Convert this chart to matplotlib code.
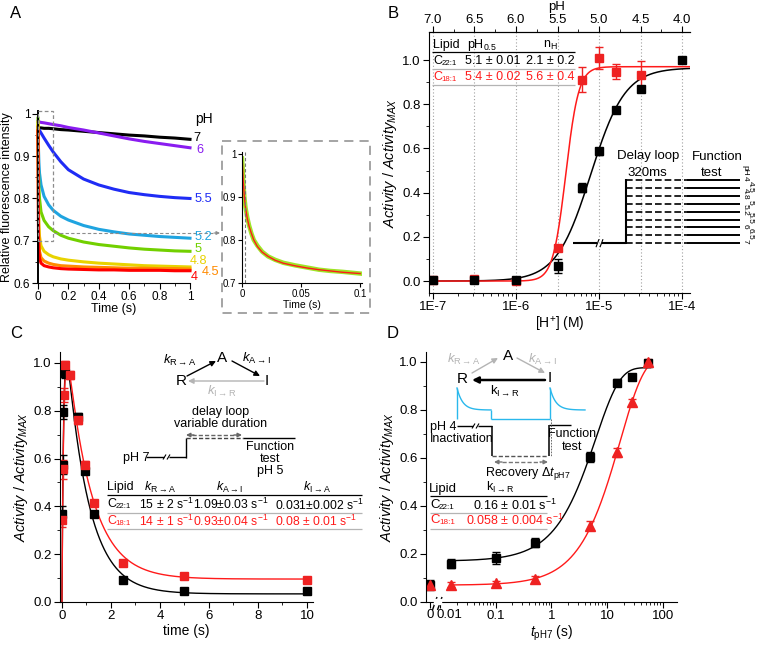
import matplotlib.pyplot as plt
import numpy as np
from matplotlib.patches import Rectangle

plt.rcParams['font.family'] = ['Liberation Sans', 'DejaVu Sans']
plt.rcParams['mathtext.fontset'] = 'custom'
plt.rcParams['mathtext.rm'] = 'Liberation Sans'
plt.rcParams['mathtext.it'] = 'Liberation Sans:italic'
plt.rcParams['mathtext.bf'] = 'Liberation Sans:bold'
plt.rcParams['mathtext.fallback'] = 'stixsans'

# ---------------- data ----------------
# panel A: fluorescence traces
tA = [0, 0.003, 0.006, 0.01, 0.02, 0.04, 0.07, 0.1, 0.15, 0.2, 0.3, 0.4, 0.5, 0.6, 0.7, 0.8, 0.9, 1.0]
trace_ph = ['7', '6', '5.5', '5.2', '5', '4.8', '4.5', '4']
trace_col = ['#000000', '#8a1cf0', '#1f2cf5', '#1fa4e0', '#72d000', '#e8d300', '#ff8a00', '#ff0000']
traces = [
    [0.967, 0.967, 0.967, 0.967, 0.967, 0.966, 0.966, 0.965, 0.963, 0.962, 0.959, 0.956, 0.953, 0.950, 0.948, 0.945, 0.943, 0.940],
    [0.982, 0.982, 0.981, 0.981, 0.980, 0.979, 0.977, 0.975, 0.972, 0.968, 0.962, 0.955, 0.948, 0.941, 0.935, 0.930, 0.925, 0.920],
    [0.968, 0.966, 0.964, 0.961, 0.955, 0.943, 0.926, 0.910, 0.887, 0.868, 0.846, 0.832, 0.822, 0.814, 0.809, 0.805, 0.802, 0.800],
    [0.965, 0.920, 0.885, 0.860, 0.832, 0.805, 0.785, 0.772, 0.758, 0.749, 0.736, 0.727, 0.721, 0.716, 0.713, 0.710, 0.708, 0.706],
    [0.990, 0.870, 0.825, 0.800, 0.768, 0.748, 0.733, 0.724, 0.713, 0.706, 0.697, 0.691, 0.687, 0.683, 0.680, 0.678, 0.676, 0.675],
    [0.980, 0.800, 0.740, 0.710, 0.688, 0.675, 0.667, 0.662, 0.657, 0.654, 0.650, 0.647, 0.645, 0.643, 0.641, 0.640, 0.639, 0.638],
    [0.970, 0.760, 0.700, 0.675, 0.660, 0.652, 0.647, 0.644, 0.641, 0.640, 0.638, 0.637, 0.636, 0.635, 0.635, 0.634, 0.634, 0.633],
    [0.960, 0.720, 0.675, 0.658, 0.647, 0.641, 0.638, 0.636, 0.634, 0.633, 0.632, 0.631, 0.631, 0.630, 0.630, 0.630, 0.629, 0.629],
]
# inset: pH 5 trace, first 0.1 s
tInset = [0, 0.0005, 0.001, 0.002, 0.003, 0.0045, 0.006, 0.008, 0.01, 0.013, 0.017, 0.022, 0.028, 0.035, 0.045, 0.055, 0.065, 0.075, 0.085, 0.1]
inset_green = [0.99, 0.97, 0.94, 0.90, 0.875, 0.852, 0.834, 0.815, 0.80, 0.787, 0.773, 0.762, 0.754, 0.747, 0.741, 0.736, 0.731, 0.728, 0.726, 0.722]
inset_fit = [1.0, 0.97, 0.94, 0.90, 0.875, 0.85, 0.832, 0.815, 0.80, 0.785, 0.772, 0.762, 0.753, 0.746, 0.740, 0.735, 0.731, 0.728, 0.725, 0.722]

# panel B: pH dependence
pH_B = [7.0, 6.5, 6.0, 5.5, 5.2, 5.0, 4.8, 4.5, 4.0]
act_22 = [0.005, 0.005, 0.005, 0.068, 0.422, 0.587, 0.776, 0.871, 1.0]
err_22 = [0.01, 0.01, 0.01, 0.03, 0.02, 0.015, 0.01, 0.01, 0.0]
pH_B18 = [7.0, 6.5, 6.0, 5.5, 5.2, 5.0, 4.8, 4.5]
act_18 = [0.005, 0.01, 0.0, 0.148, 0.912, 1.01, 0.947, 0.932]
err_18 = [0.01, 0.01, 0.01, 0.01, 0.055, 0.05, 0.034, 0.065]
hill_22 = (0.965, 5.1, 2.1)   # amplitude, pH0.5, nH
hill_18 = (0.97, 5.4, 5.6)
pH_grid = [7.0, 6.5, 6.0, 5.5, 5.0, 4.5, 4.0]
pH_loop = ['4', '4.5', '4.8', '5', '5.2', '5.5', '6', '6.5', '7']

# panel C: inactivation time course
tC22 = [0.02, 0.04, 0.06, 0.12, 0.65, 0.95, 1.3, 2.5, 5, 10]
actC22 = [0.37, 0.575, 0.795, 0.957, 0.775, 0.55, 0.368, 0.092, 0.045, 0.044]
errC22 = [0.03, 0.04, 0.03, 0.02, 0.015, 0.015, 0.01, 0.01, 0.005, 0.005]
tC18 = [0.02, 0.04, 0.08, 0.14, 0.33, 0.65, 0.95, 1.3, 2.5, 5, 10]
actC18 = [0.345, 0.555, 0.866, 0.99, 0.95, 0.76, 0.575, 0.414, 0.162, 0.109, 0.094]
errC18 = [0.03, 0.04, 0.03, 0.02, 0.015, 0.015, 0.015, 0.01, 0.01, 0.005, 0.005]
k_22 = (15, 1.09, 0.031)   # kR->A, kA->I, kI->A
k_18 = (14, 0.93, 0.08)

# panel D: recovery from inactivation
tD = [0, 0.016, 0.1, 0.5, 5, 15, 28, 55]
actD22 = [0.07, 0.16, 0.185, 0.247, 0.604, 0.913, 0.937, 0.996]
errD22 = [0.02, 0.02, 0.025, 0.02, 0.02, 0.015, 0.01, 0.01]
actD18 = [0.07, 0.072, 0.077, 0.094, 0.318, 0.622, 0.83, 1.0]
errD18 = [0.01, 0.01, 0.01, 0.015, 0.02, 0.02, 0.015, 0.01]
rec_22 = (0.17, 0.975, 0.16)   # baseline, plateau, kI->R
rec_18 = (0.07, 1.02, 0.058)

# ---------------- figure ----------------
W, H = 758, 646
fig = plt.figure(figsize=(W / 100, H / 100), dpi=100)


def box(l, t, r, b):
    return [l / W, 1 - b / H, (r - l) / W, (b - t) / H]


def clean(ax, top=False):
    ax.spines['right'].set_visible(False)
    if not top:
        ax.spines['top'].set_visible(False)
    ax.tick_params(which='major', length=4, width=0.8)
    ax.tick_params(which='minor', length=2, width=0.6)


ACT = r'$Activity$ / $Activity_{MAX}$'

# ---- A ----
axA = fig.add_axes(box(38, 111, 190, 283))
for vals, col in zip(traces, trace_col):
    axA.plot(tA, vals, color=col, lw=2.2, solid_joinstyle='round', clip_on=False)
axA.set_xlim(0, 1)
axA.set_ylim(0.6, 1.007)
axA.set_xticks([0, 0.2, 0.4, 0.6, 0.8, 1.0])
axA.set_xticklabels(['0', '0.2', '0.4', '0.6', '0.8', '1'])
axA.set_xticks(np.arange(0.1, 1.0, 0.2), minor=True)
axA.set_yticks([0.6, 0.7, 0.8, 0.9, 1.0])
axA.set_yticklabels(['0.6', '0.7', '0.8', '0.9', '1'])
axA.set_yticks(np.arange(0.65, 1.0, 0.1), minor=True)
clean(axA)
axA.spines['left'].set_linewidth(1.4)
axA.tick_params(labelsize=8.5, pad=1.5)
axA.set_xlabel('Time (s)', fontsize=9, labelpad=0)
axA.set_ylabel('Relative fluorescence intensity', fontsize=9)
axA.yaxis.set_label_coords(-0.165, 0.5)
axA.add_patch(Rectangle((0, 0.7), 0.1, 0.307, fill=False, ec='#8c8c8c', lw=0.9,
                        ls=(0, (3, 2)), clip_on=False, zorder=5))

# inset
axI = fig.add_axes(box(242, 152, 362, 283))
axI.plot(tInset, inset_green, color='#8ee000', lw=3.2, alpha=0.85)
axI.plot(tInset, inset_fit, color='#ff1a1a', lw=1.0)
axI.axvline(0.0023, color='#777777', lw=0.8, ls=(0, (3, 2)))
axI.set_xlim(0, 0.1015)
axI.set_ylim(0.7, 1.005)
axI.set_xticks([0, 0.05, 0.1])
axI.set_xticklabels(['0', '0.05', '0.1'])
axI.set_yticks([0.7, 0.8, 0.9, 1.0])
axI.set_yticklabels(['0.7', '0.8', '0.9', '1'])
clean(axI)
axI.tick_params(labelsize=7, pad=1, length=3)
axI.set_xlabel('Time (s)', fontsize=7.5, labelpad=1)

# ---- B ----
axB = fig.add_axes(box(429, 32, 690, 293))
axB.set_xscale('log')
xl = (10 ** -7.048, 10 ** -3.904)
for p in pH_grid:
    axB.axvline(10 ** -p, color='#a0a0a0', lw=0.8, ls=(0, (1, 2)), zorder=0)
ph_fine = np.linspace(7.05, 3.9, 400)
axB.plot(10 ** -ph_fine, hill_22[0] / (1 + 10 ** (hill_22[2] * (ph_fine - hill_22[1]))), color='k', lw=1.1)
axB.plot(10 ** -ph_fine, hill_18[0] / (1 + 10 ** (hill_18[2] * (ph_fine - hill_18[1]))), color='#ff1a1a', lw=1.1)
axB.errorbar([10 ** -p for p in pH_B18], act_18, yerr=err_18, fmt='s', color='#ee2222', ms=6,
             capsize=3, elinewidth=1, capthick=1)
axB.errorbar([10 ** -p for p in pH_B], act_22, yerr=err_22, fmt='s', color='k', ms=6,
             capsize=3, elinewidth=1, capthick=1)
axB.set_xlim(*xl)
axB.set_ylim(-0.054, 1.127)
axB.set_xticks([1e-7, 1e-6, 1e-5, 1e-4])
axB.set_xticklabels(['1E-7', '1E-6', '1E-5', '1E-4'])
axB.set_yticks(np.arange(0, 1.01, 0.2))
axB.set_yticklabels(['0.0', '0.2', '0.4', '0.6', '0.8', '1.0'])
axB.set_yticks(np.arange(0.1, 1.1, 0.2), minor=True)
clean(axB, top=True)
axB.tick_params(labelsize=9.5, pad=2)
axB.set_xlabel(r'[H$^{+}$] (M)', fontsize=10, labelpad=1)
axB.set_ylabel(ACT, fontsize=10.5, labelpad=2)
axT = axB.twiny()
axT.set_xscale('log')
axT.set_xlim(*xl)
axT.set_xticks([10 ** -p for p in np.arange(7.0, 3.9, -0.5)])
axT.set_xticklabels(['%.1f' % p for p in np.arange(7.0, 3.9, -0.5)])
axT.set_xticks([10 ** -p for p in np.arange(6.75, 4.0, -0.5)], minor=True)
axT.xaxis.set_minor_formatter(plt.NullFormatter())
for s in ['left', 'right', 'bottom']:
    axT.spines[s].set_visible(False)
axT.tick_params(which='major', length=4, width=0.8, labelsize=9.5, pad=0.5)
axT.tick_params(which='minor', length=2, width=0.6)

# ---- C ----
axC = fig.add_axes(box(60, 352, 313, 602))
t_fine = np.concatenate([np.linspace(0, 0.6, 600), np.linspace(0.6, 10, 600)])


def three_state(t, k1, k2, k3):
    s = k2 + k3
    c = (k1 - k3) / (s - k1)
    a = k3 / s * (1 - np.exp(-s * t)) + c * (np.exp(-k1 * t) - np.exp(-s * t))
    return a / a.max()


axC.plot(t_fine, three_state(t_fine, *k_22), color='k', lw=1.0)
axC.plot(t_fine, three_state(t_fine, *k_18), color='#ff1a1a', lw=1.0)
axC.errorbar(tC22, actC22, yerr=errC22, fmt='s', color='k', ms=6, capsize=3, elinewidth=1, capthick=1)
axC.errorbar(tC18, actC18, yerr=errC18, fmt='s', color='#ee2222', ms=6, capsize=3, elinewidth=1, capthick=1)
axC.set_xlim(-0.08, 10.245)
axC.set_ylim(0, 1.046)
axC.set_xticks([0, 2, 4, 6, 8, 10])
axC.set_xticks([1, 3, 5, 7, 9], minor=True)
axC.set_yticks(np.arange(0, 1.01, 0.2))
axC.set_yticklabels(['0.0', '0.2', '0.4', '0.6', '0.8', '1.0'])
axC.set_yticks(np.arange(0.1, 1.1, 0.2), minor=True)
clean(axC)
axC.tick_params(labelsize=9.5, pad=2)
axC.set_xlabel('time (s)', fontsize=10, labelpad=1)
axC.set_ylabel(ACT, fontsize=10.5, labelpad=2)

# ---- D ----
axD = fig.add_axes(box(426, 352, 677, 602))
axD.set_xscale('log')
x_zero = 0.0066
xD = [x_zero if t == 0 else t for t in tD]
tt = np.logspace(np.log10(0.016), np.log10(60), 400)
axD.plot(tt, rec_22[0] + (rec_22[1] - rec_22[0]) * (1 - np.exp(-rec_22[2] * tt)), color='k', lw=1.0)
axD.plot(tt, rec_18[0] + (rec_18[1] - rec_18[0]) * (1 - np.exp(-rec_18[2] * tt)), color='#ff1a1a', lw=1.0)
axD.errorbar(xD, actD22, yerr=errD22, fmt='s', color='k', ms=6, capsize=3, elinewidth=1, capthick=1)
axD.errorbar(xD, actD18, yerr=errD18, fmt='^', color='#ee2222', ms=7, capsize=3, elinewidth=1, capthick=1)
axD.set_xlim(0.00561, 180)
axD.set_ylim(0, 1.04)
axD.set_xticks([x_zero, 0.01, 0.1, 1, 10, 100])
axD.set_xticklabels(['', '', '0.1', '1', '10', '100'])
axD.set_xticks([k * 10.0 ** n for n in range(-2, 3) for k in range(2, 10) if k * 10.0 ** n < 180], minor=True)
axD.xaxis.set_minor_formatter(plt.NullFormatter())
axD.set_yticks(np.arange(0, 1.01, 0.2))
axD.set_yticklabels(['0.0', '0.2', '0.4', '0.6', '0.8', '1.0'])
axD.set_yticks(np.arange(0.1, 1.1, 0.2), minor=True)
clean(axD)
axD.tick_params(labelsize=9.5, pad=2)
axD.set_xlabel(r'$t_\mathrm{pH7}$ (s)', fontsize=10, labelpad=1)
axD.set_ylabel(ACT, fontsize=10.5, labelpad=2)

# ---------------- overlay for schemes, tables, labels ----------------
ov = fig.add_axes([0, 0, 1, 1], zorder=20)
ov.set_xlim(0, W)
ov.set_ylim(H, 0)
ov.axis('off')

GRAY = '#b4b4b4'
RED = '#ff1a1a'


def txt(x, y, s, size=9, color='k', ha='center', **kw):
    ov.text(x, y, s, fontsize=size, color=color, ha=ha, va='center', **kw)


def lipid(x, y, sub, size=9, color='k'):
    # "C" with a small subscript, as in the tables
    txt(x, y, 'C', size=size, color=color, ha='left')
    txt(x + size * 0.95, y + 2.5, sub, size=size * 0.62, color=color, ha='left')


def seg(xs, ys, color='k', lw=1.0, ls='-'):
    ov.plot(xs, ys, color=color, lw=lw, ls=ls, solid_capstyle='butt')


def arrow(x1, y1, x2, y2, color='k', lw=1.0, ms=8):
    ov.annotate('', xy=(x2, y2), xytext=(x1, y1),
                arrowprops=dict(arrowstyle='-|>', color=color, lw=lw, mutation_scale=ms,
                                shrinkA=0, shrinkB=0))


def brk(x, y, size=4):
    seg([x - 4, x - 1], [y + size, y - size], lw=0.8)
    seg([x, x + 3], [y + size, y - size], lw=0.8)


# panel letters
for lab, x, y in [('A', 10, 14), ('B', 388, 14), ('C', 10, 334), ('D', 387, 334)]:
    txt(x, y, lab, size=12, ha='left')

# top-axis title of B
txt(557, 7, 'pH', size=9.5)

# A labels
txt(195, 119, 'pH', size=10, ha='left')
lab_pos = [(193, 138), (196, 150), (195, 199), (195, 237), (195, 249), (190, 261), (202, 272), (191, 277)]
for lab, col, (x, y) in zip(trace_ph, trace_col, lab_pos):
    txt(x, y, lab, size=9.2, color=col, ha='left')
# A inset frame and connector
ov.add_patch(Rectangle((222, 141), 148, 172, fill=False, ec='#8c8c8c', lw=1.1, ls=(0, (6, 4))))
seg([54, 216], [233, 233], color='#8c8c8c', lw=0.8, ls=(0, (3, 2)))
arrow(214, 233, 220, 233, color='#8c8c8c', lw=0.8, ms=5)

# B table
txt(433, 45, 'Lipid', size=9, ha='left')
txt(482, 45, r'pH$_{0.5}$', size=9)
txt(550, 45, r'n$_\mathrm{H}$', size=9)
seg([432, 575], [52, 52], lw=0.9)
lipid(433, 61, '22:1')
txt(493, 61, '5.1 ± 0.01', size=9)
txt(550, 61, '2.1 ± 0.2', size=9)
seg([432, 575], [68.5, 68.5], color=GRAY, lw=0.9)
lipid(433, 77, '18:1', color=RED)
txt(493, 77, '5.4 ± 0.02', size=9, color=RED)
txt(550, 77, '5.6 ± 0.4', size=9, color=RED)
seg([432, 575], [84.5, 84.5], color=GRAY, lw=0.9)

# B pulse scheme
txt(648, 156, 'Delay loop', size=9.5)
txt(647, 173, '320ms', size=9.5)
txt(717, 157, 'Function', size=9.5)
txt(712, 173, 'test', size=9.5)
for i, lab in enumerate(pH_loop):
    y = 180 + i * 7.9
    seg([626, 687], [y, y], lw=1.2, ls=(0, (4, 1.8)))
    seg([687, 740], [y, y], lw=1.4)
    txt(745 + 5 * (i % 2), y - 1.5, lab, size=6, rotation=270)
txt(745, 170, 'pH', size=6, rotation=270)
seg([626, 626], [179.3, 244], lw=1.5)
seg([573, 597], [243.2, 243.2], lw=1.5)
seg([602, 626], [243.2, 243.2], lw=1.5)
brk(600, 243.2)

# C scheme
txt(180, 360, r'$k_{\mathrm{R}\rightarrow\mathrm{A}}$', size=9.5)
txt(222, 358, 'A', size=11)
txt(256, 358, r'$k_{\mathrm{A}\rightarrow\mathrm{I}}$', size=9.5)
txt(181, 381, 'R', size=11)
txt(267, 381, 'I', size=11)
arrow(187, 376, 216, 361)
arrow(232, 361, 260, 376)
arrow(264, 381, 188, 381, color=GRAY)
txt(222, 391, r'$k_{\mathrm{I}\rightarrow\mathrm{R}}$', size=9.5, color=GRAY)
txt(221, 412, 'delay loop', size=9)
txt(221, 424, 'variable duration', size=9)
seg([192, 236], [435, 435], color='#666666', lw=1.0, ls=(0, (3, 1.5)))
arrow(194, 435, 186, 435, color='#666666', ms=6)
arrow(234, 435, 242, 435, color='#666666', ms=6)
txt(136, 458, 'pH 7', size=9)
seg([146, 164], [457, 457], lw=1.0)
seg([169, 186], [457, 457], lw=1.0)
brk(167, 457, 2.5)
seg([186, 186], [457.5, 438], lw=1.0)
seg([186, 243], [438, 438], color='#444444', lw=1.0, ls=(0, (3, 1.5)))
seg([243, 295], [438, 438], lw=1.0)
txt(270, 447, 'Function', size=9)
txt(270, 459, 'test', size=9)
txt(270, 471, 'pH 5', size=9)

# C table
txt(120, 487, 'Lipid', size=9)
txt(160, 487, r'$k_{\mathrm{R}\rightarrow\mathrm{A}}$', size=9)
txt(230, 487, r'$k_{\mathrm{A}\rightarrow\mathrm{I}}$', size=9)
txt(317, 487, r'$k_{\mathrm{I}\rightarrow\mathrm{A}}$', size=9)
seg([107, 362], [495, 495], lw=0.9)
lipid(107, 504, '22:1')
txt(166, 504, r'15 ± 2 s$^{-1}$', size=8.8)
txt(231, 504, r'1.09±0.03 s$^{-1}$', size=8.8)
txt(320, 505, r'0.031±0.002 s$^{-1}$', size=8.8)
seg([107, 362], [512.5, 512.5], color=GRAY, lw=0.9)
lipid(107, 521, '18:1', color=RED)
txt(166, 521, r'14 ± 1 s$^{-1}$', size=8.8, color=RED)
txt(231, 521, r'0.93±0.04 s$^{-1}$', size=8.8, color=RED)
txt(316, 521, r'0.08 ± 0.01 s$^{-1}$', size=8.8, color=RED)
seg([107, 362], [529, 529], color=GRAY, lw=0.9)

# D scheme
txt(464, 359, r'$k_{\mathrm{R}\rightarrow\mathrm{A}}$', size=9.5, color=GRAY)
txt(508, 356, 'A', size=11)
txt(542, 359, r'$k_{\mathrm{A}\rightarrow\mathrm{I}}$', size=9.5, color=GRAY)
txt(462, 379, 'R', size=11)
txt(550, 378, 'I', size=11)
arrow(472, 373, 498, 358, color=GRAY)
arrow(517, 358, 545, 373, color=GRAY)
arrow(545, 380, 472, 380, lw=1.8, ms=9)
txt(505, 391, r'k$_{\mathrm{I}\rightarrow\mathrm{R}}$', size=9.5)
CY = '#2ab8ec'
xs = np.linspace(0, 1, 60)
seg([457, 457], [419, 388], color=CY, lw=1.0)
ov.plot(457 + 34 * xs, 410 - 22 * np.exp(-xs * 6), color=CY, lw=1.0)
seg([491, 491], [410, 419], color=CY, lw=1.0)
seg([491, 550], [419, 419], color=CY, lw=1.0)
seg([550, 550], [419, 388], color=CY, lw=1.0)
ov.plot(550 + 35 * xs, 410 - 22 * np.exp(-xs * 6), color=CY, lw=1.0)
txt(443, 427, 'pH 4', size=9)
seg([457, 473], [426, 426], lw=1.0)
seg([478, 492], [426, 426], lw=1.0)
brk(476, 426, 2.5)
seg([492, 492], [425.5, 456], lw=1.1)
seg([492, 547], [456, 456], color='#555555', lw=1.0, ls=(0, (3, 1.5)))
seg([548.5, 548.5], [456, 425], lw=1.1)
seg([548.5, 571], [425, 425], lw=1.0)
seg([551, 551], [419, 456], color='#555555', lw=0.6, ls=(0, (2, 1.5)))
txt(462, 439, 'Inactivation', size=9)
txt(572, 434, 'Function', size=9)
txt(572, 447, 'test', size=9)
seg([502, 540], [462, 462], color='#777777', lw=1.0, ls=(0, (3, 1.5)))
arrow(502, 462, 494, 462, color='#777777', ms=6)
arrow(540, 462, 548, 462, color='#777777', ms=6)
txt(528, 473, r'Recovery $\Delta t_\mathrm{pH7}$', size=9)

# D table
txt(443, 489, 'Lipid', size=9.5)
txt(500, 487.5, r'k$_{\mathrm{I}\rightarrow\mathrm{R}}$', size=9)
seg([430, 547], [496, 496], lw=0.9)
lipid(430, 505, '22:1', size=9.5)
txt(515, 505, r'0.16 ± 0.01 s$^{-1}$', size=9)
seg([430, 547], [513, 513], color=GRAY, lw=0.9)
lipid(430, 520, '18:1', size=9.5, color=RED)
txt(515, 520, r'0.058 ± 0.004 s$^{-1}$', size=9, color=RED)
seg([430, 547], [528.5, 528.5], color=GRAY, lw=0.9)

# D axis break and the two crowded tick labels
ov.add_patch(Rectangle((434, 598.5), 7, 5, color='white', zorder=3))
seg([432.5, 437], [610, 597], lw=1.0)
seg([437.5, 442], [610, 597], lw=1.0)
txt(430, 615, '0', size=9.5)
txt(449, 615, '0.01', size=9.5)

fig.savefig('out.png', dpi=100)
